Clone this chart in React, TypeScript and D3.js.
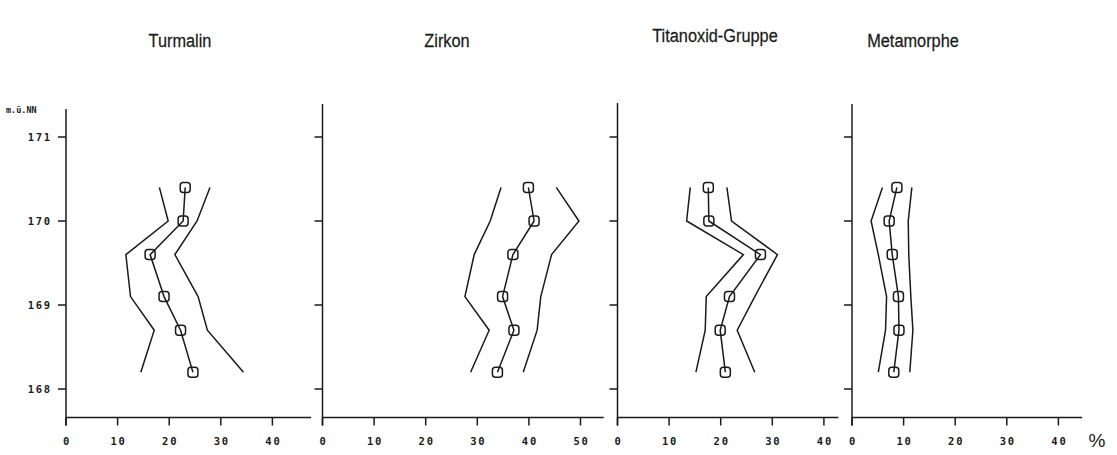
import React from "react";
import * as d3 from "d3";

// ---- data ----
const titles = ["Turmalin", "Zirkon", "Titanoxid-Gruppe", "Metamorphe"];
const depths = [170.4, 170.0, 169.6, 169.1, 168.7, 168.2];
const yTicks = [168, 169, 170, 171];

const turmalinMean = [23.1, 22.7, 16.3, 19.0, 22.2, 24.6];
const turmalinLow = [18.1, 19.8, 11.6, 12.5, 17.1, 14.5];
const turmalinHigh = [27.9, 25.4, 21.1, 25.6, 27.4, 34.4];

const zirkonMean = [39.9, 41.0, 36.9, 34.9, 37.1, 33.9];
const zirkonLow = [34.6, 32.5, 29.4, 27.6, 32.3, 28.7];
const zirkonHigh = [45.3, 49.7, 44.4, 42.3, 41.6, 38.9];

const titanMean = [17.6, 17.7, 27.7, 21.7, 19.9, 20.9];
const titanLow = [14.1, 13.4, 24.4, 17.2, 17.0, 15.2];
const titanHigh = [21.2, 22.1, 31.0, 26.6, 23.2, 26.6];

const metaMean = [8.7, 7.2, 7.8, 9.0, 9.1, 8.1];
const metaLow = [5.9, 3.7, 5.1, 6.7, 6.5, 5.1];
const metaHigh = [11.6, 10.9, 11.0, 11.4, 11.8, 11.2];

const xTicks1 = [0, 10, 20, 30, 40];
const xTicks2 = [0, 10, 20, 30, 40, 50];

const means = [turmalinMean, zirkonMean, titanMean, metaMean];
const lows = [turmalinLow, zirkonLow, titanLow, metaLow];
const highs = [turmalinHigh, zirkonHigh, titanHigh, metaHigh];
const xTickSets = [xTicks1, xTicks2, xTicks1, xTicks1];
const xMaxes = [47.5, 54.5, 42.8, 44.6];

// ---- layout ----
const W = 1117;
const H = 455;
const pxPerUnit = 5.16;
const panelX = [66, 322.5, 617.5, 852];
const panelTop = [109, 104, 103, 104];
const titleX = [180, 447, 715, 913];
const titleY = [47, 47, 42, 47];
const baseY = 417.5;
const ink = "#1a1a1a";
const mono = "'DejaVu Sans Mono', 'Liberation Mono', monospace";
const sans = "'Liberation Sans', Arial, sans-serif";
const sw = 1.5;

const y = d3.scaleLinear().domain([168, 171]).range([389, 137]);

function Panel({ i }: { i: number }) {
  const x0 = panelX[i];
  const x = d3.scaleLinear().domain([0, xMaxes[i]]).range([x0, x0 + xMaxes[i] * pxPerUnit]);
  const line = d3
    .line<[number, number]>()
    .x((d) => x(d[0]))
    .y((d) => y(d[1]));
  const pts = (vals: number[]) => vals.map((v, k) => [v, depths[k]] as [number, number]);
  return (
    <g>
      <g transform={`translate(${titleX[i]},${titleY[i]}) scale(0.86,1)`}>
        <text x={0} y={0} textAnchor="middle" fontFamily={sans} fontSize={19} fill={ink} stroke={ink} strokeWidth={0.25}>
          {titles[i]}
        </text>
      </g>
      {/* y axis */}
      <line x1={x0} x2={x0} y1={panelTop[i]} y2={baseY + 8} stroke={ink} strokeWidth={sw} />
      {yTicks.map((t) => (
        <line key={t} x1={x0 - 8} x2={x0} y1={y(t)} y2={y(t)} stroke={ink} strokeWidth={sw} />
      ))}
      {i === 0 &&
        yTicks.map((t) => (
          <text key={"l" + t} x={52} y={y(t)} dy="0.36em" textAnchor="end" fontFamily={mono} fontWeight="bold" fontSize={10.5} letterSpacing={1.8} fill={ink}>
            {t}
          </text>
        ))}
      {/* x axis */}
      <line x1={x0} x2={x(xMaxes[i])} y1={baseY} y2={baseY} stroke={ink} strokeWidth={sw} />
      {xTickSets[i].map((t) => (
        <g key={t}>
          <line x1={x(t)} x2={x(t)} y1={baseY} y2={baseY + 8} stroke={ink} strokeWidth={sw} />
          <text x={x(t) + 1} y={445} textAnchor="middle" fontFamily={mono} fontWeight="bold" fontSize={10.5} letterSpacing={1.8} fill={ink}>
            {t}
          </text>
        </g>
      ))}
      {/* envelopes */}
      <path d={line(pts(lows[i])) || ""} fill="none" stroke={ink} strokeWidth={sw} />
      <path d={line(pts(highs[i])) || ""} fill="none" stroke={ink} strokeWidth={sw} />
      <path d={line(pts(means[i])) || ""} fill="none" stroke={ink} strokeWidth={sw} />
      {means[i].map((v, k) => (
        <rect key={k} x={x(v) - 5} y={y(depths[k]) - 5} width={10} height={10} rx={3} fill="none" stroke={ink} strokeWidth={sw} />
      ))}
    </g>
  );
}

export default function App() {
  return (
    <div style={{ position: "absolute", left: 0, top: 0, width: W, height: H, background: "#fff" }}>
      <svg width={W} height={H} style={{ display: "block" }}>
        <rect width={W} height={H} fill="#fff" />
        <text x={6} y={110} dy="0.35em" fontFamily={mono} fontWeight="bold" fontSize={8.5} fill={ink}>
          m.ü.NN
        </text>
        {titles.map((_, i) => (
          <Panel key={i} i={i} />
        ))}
        <text x={1097} y={447} textAnchor="middle" fontFamily={sans} fontSize={19} fill={ink}>
          %
        </text>
      </svg>
    </div>
  );
}
